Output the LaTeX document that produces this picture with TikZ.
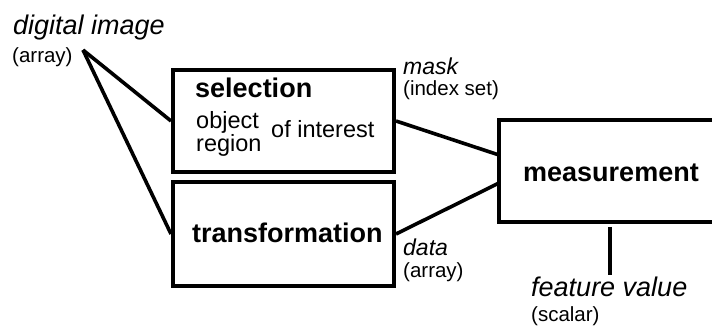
\documentclass[tikz,border=0pt]{standalone}
\usepackage{fontspec}
\setmainfont{Liberation Sans}
\begin{document}
\begin{tikzpicture}[x=1pt,y=-1pt,
  box/.style={draw,line width=4pt,inner sep=0pt},
  wire/.style={line width=3.6pt},
  lbl/.style={anchor=base west,inner sep=0pt},
  bigb/.style={font=\fontsize{27}{30}\selectfont\bfseries},
  mid/.style={font=\fontsize{23.5}{26}\selectfont},
  midi/.style={font=\fontsize{23}{26}\selectfont\itshape},
  small/.style={font=\fontsize{20.5}{24}\selectfont},
  bigi/.style={font=\fontsize{27}{30}\selectfont\itshape}]
\useasboundingbox (0,0) rectangle (712,328);
\clip (0,0) rectangle (712,328);
% boxes
\node[box,minimum width=221pt,minimum height=102pt] (sel) at (283.5,121) {};
\node[box,minimum width=221pt,minimum height=104pt] (tra) at (283.5,234) {};
\node[box,minimum width=241pt,minimum height=102pt] (mea) at (619.5,171) {};
% texts
\node[lbl,bigi] (dimg) at (13,35) {digital image};
\node[lbl,small] (darr) at (12,63) {(array)};
\node[lbl,bigb] (selt) at (195,98) {selection};
\node[lbl,mid] (obj) at (196,129) {object};
\node[lbl,mid] (reg) at (196,152) {region};
\node[lbl,mid] (ofi) at (271,138) {of interest};
\node[lbl,bigb] (trat) at (192,243) {transformation};
\node[lbl,bigb] (meat) at (523,182) {measurement};
\node[lbl,midi] (mask) at (403,75) {mask};
\node[lbl,small] (idx) at (403,96) {(index set)};
\node[lbl,midi] (data) at (403,256) {data};
\node[lbl,small] (aarr) at (403,278) {(array)};
\node[lbl,bigi] (feat) at (531,297) {feature value};
\node[lbl,small] (scal) at (531,322) {(scalar)};
% connectors
\coordinate (apex) at (83,50);
\coordinate (m1) at (499,155);
\coordinate (m2) at (499,183);
\coordinate (fb) at (610,227);
\coordinate (fe) at (610,275);
\draw[wire] (apex) -- (sel.west);
\draw[wire] (apex) -- (tra.west);
\draw[wire] (sel.east) -- (m1);
\draw[wire] (tra.east) -- (m2);
\draw[wire] (fb) -- (fe);
\end{tikzpicture}
\end{document}
